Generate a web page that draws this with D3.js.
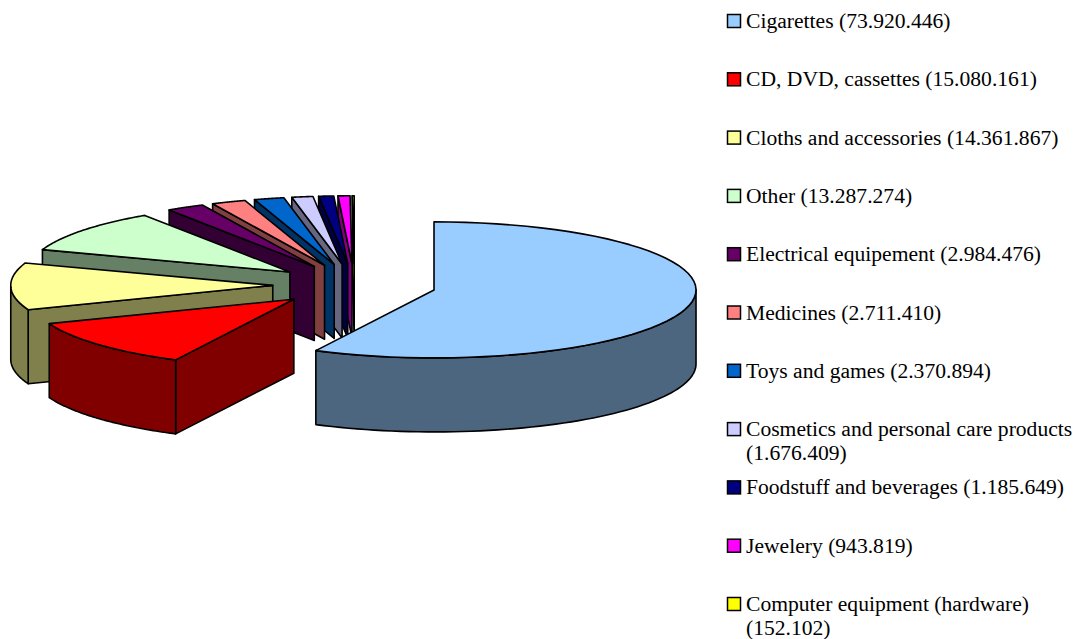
<!DOCTYPE html>
<html>
<head>
<meta charset="utf-8">
<script src="https://cdn.jsdelivr.net/npm/d3@7/dist/d3.min.js"></script>
<style>
html,body{margin:0;padding:0;background:#fff;}
svg{display:block;}
text{font-family:"Liberation Serif","Times New Roman",serif;font-size:21.6px;fill:#000;}
</style>
</head>
<body>
<svg id="chart" width="1075" height="639"></svg>
<script>
const categories = ["Cigarettes","CD, DVD, cassettes","Cloths and accessories","Other","Electrical equipement","Medicines","Toys and games","Cosmetics and personal care products","Foodstuff and beverages","Jewelery","Computer equipment (hardware)"];
const values = [73920446,15080161,14361867,13287274,2984476,2711410,2370894,1676409,1185649,943819,152102];
const colors = ["#99CCFF","#FF0000","#FFFF99","#CCFFCC","#660066","#FF8080","#0066CC","#CCCCFF","#000080","#FF00FF","#FFFF00"];

const W = 1075, H = 639;
const cx = 354.5, cy = 285, rx = 262, ry = 68, depth = 74, explode = 0.312;

const svg = d3.select("#chart");
const fmt = d3.formatLocale({decimal:",",thousands:".",grouping:[3],currency:["",""]}).format(",d");
const pie = d3.pie().sort(null).value(d => d)(values);
const line = d3.line();
const dark = c => { const k = d3.rgb(c); return d3.rgb(k.r/2, k.g/2, k.b/2).formatHex(); };

const slices = pie.map((p,i) => {
  const mid = (p.startAngle + p.endAngle)/2;
  const ax = cx + explode*rx*Math.sin(mid), ay = cy - explode*ry*Math.cos(mid);
  const rim = t => [ax + rx*Math.sin(t), ay - ry*Math.cos(t)];
  return {i, a0:p.startAngle, a1:p.endAngle, ax, ay, rim, color:colors[i]};
});
const arcPts = (s,a,b) => d3.range(0,61).map(k => s.rim(a + (b-a)*k/60));
const drop = pts => pts.map(([x,y]) => [x,y+depth]);

const order = slices.slice(1).reverse().concat([slices[0]]);
const g = svg.append("g").attr("stroke","#000").attr("stroke-width",1.6).attr("stroke-linejoin","round");
order.forEach(s => {
  const wall = dark(s.color);
  if (Math.sin(s.a0) < -1e-6) {
    const r = s.rim(s.a0);
    const q = [[s.ax,s.ay], r, [r[0],r[1]+depth], [s.ax,s.ay+depth]];
    g.append("path").attr("fill",wall).attr("d",line(q)+"Z");
  }
  const lo = Math.max(s.a0, Math.PI/2), hi = Math.min(s.a1, 3*Math.PI/2);
  if (hi > lo) {
    const top = arcPts(s,lo,hi);
    g.append("path").attr("fill",wall).attr("d",line(top.concat(drop(top).reverse()))+"Z");
  }
  const face = [[s.ax,s.ay]].concat(arcPts(s,s.a0,s.a1));
  g.append("path").attr("fill",s.color).attr("d",line(face)+"Z");
});

const rowY = d3.scalePoint().domain(categories).range([21,604]);
const legend = svg.append("g");
categories.forEach((c,i) => {
  const y = rowY(c);
  legend.append("rect").attr("x",727.5).attr("y",y-6.5).attr("width",13).attr("height",13)
    .attr("fill",colors[i]).attr("stroke","#000").attr("stroke-width",1.5);
  const label = c + " (" + fmt(values[i]) + ")";
  const t = legend.append("text").attr("x",746).attr("y",y+7);
  if (label.length > 36) {
    t.text(c);
    legend.append("text").attr("x",746).attr("y",y+31).text("(" + fmt(values[i]) + ")");
  } else t.text(label);
});
</script>
</body>
</html>
